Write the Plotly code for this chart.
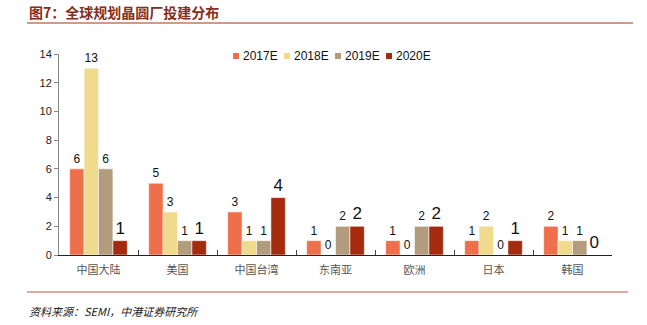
import plotly.graph_objects as go

# Planned fab construction by region, 2017E-2020E
regions = ["中国大陆", "美国", "中国台湾", "东南亚", "欧洲", "日本", "韩国"]
series_names = ["2017E", "2018E", "2019E", "2020E"]
fabs_2017 = [6, 5, 3, 1, 1, 1, 2]
fabs_2018 = [13, 3, 1, 0, 0, 2, 1]
fabs_2019 = [6, 1, 1, 2, 2, 0, 1]
fabs_2020 = [1, 1, 4, 2, 2, 1, 0]
y_ticks = [0, 2, 4, 6, 8, 10, 12, 14]

colors = ["#EE6F4B", "#F0DA8E", "#B39C7D", "#A52B0F"]
label_sizes = [12, 12, 12, 17]

CJK = "Noto Sans CJK SC"
LATIN = "Liberation Sans, Arial"

fig = go.Figure()
for name, vals, col, fs in zip(series_names,
                               [fabs_2017, fabs_2018, fabs_2019, fabs_2020],
                               colors, label_sizes):
    fig.add_trace(go.Bar(
        name=name, x=regions, y=vals,
        marker=dict(color=col, line=dict(color="rgba(255,255,255,0.55)", width=1)),
        text=[str(v) for v in vals], textposition="outside",
        textfont=dict(size=fs, color="#111", family=LATIN),
        cliponaxis=False, showlegend=False,
    ))

W, H = 647, 325
L, R, T, B = 59, 35, 54, 70
pw, ph = W - L - R, H - T - B


def px(x):
    return (x - L) / pw


def py(y):
    return (H - B - y) / ph


shapes = [
    dict(type="line", xref="paper", yref="paper", x0=px(27), x1=px(633),
         y0=py(23), y1=py(23), line=dict(color="#D19A86", width=2)),
    dict(type="line", xref="paper", yref="paper", x0=px(27), x1=px(628),
         y0=py(292), y1=py(292), line=dict(color="#B65A43", width=1.2)),
]
annotations = [
    dict(text="<b>图7：全球规划晶圆厂投建分布</b>", xref="paper", yref="paper",
         x=px(27), y=py(12), xanchor="left", yanchor="middle", showarrow=False,
         font=dict(family=CJK, size=14, color="#862E1C")),
    dict(text="<i>资料来源：SEMI，中港证券研究所</i>", xref="paper", yref="paper",
         x=px(27), y=py(311), xanchor="left", yanchor="middle", showarrow=False,
         font=dict(family=CJK, size=11, color="#222")),
]

# Compact horizontal legend: small swatch followed by series name
legend_x0, legend_step, legend_y = 233, 51, 56
for i, (name, col) in enumerate(zip(series_names, colors)):
    x = legend_x0 + i * legend_step
    shapes.append(dict(type="rect", xref="paper", yref="paper",
                       x0=px(x), x1=px(x + 6), y0=py(legend_y + 3), y1=py(legend_y - 3),
                       fillcolor=col, line=dict(width=0)))
    annotations.append(dict(text=name, xref="paper", yref="paper",
                            x=px(x + 8), y=py(legend_y), xanchor="left", yanchor="middle",
                            showarrow=False,
                            font=dict(family=LATIN, size=12, color="#111")))

fig.update_layout(
    width=W, height=H,
    margin=dict(l=L, r=R, t=T, b=B),
    paper_bgcolor="white", plot_bgcolor="white",
    barmode="group", bargap=0.27, bargroupgap=0,
    font=dict(family=LATIN, size=11, color="#222"),
    showlegend=False,
    xaxis=dict(type="category", showline=True, linecolor="#222", linewidth=1,
               ticks="inside", ticklen=5, tickcolor="#444", tickson="boundaries",
               tickfont=dict(family=CJK, size=11, color="#555"), ticklabelstandoff=5,
               showgrid=False, zeroline=False),
    yaxis=dict(range=[0, 14], tickvals=y_ticks, showline=True, linecolor="#888",
               linewidth=1, ticks="outside", ticklen=4, tickcolor="#888",
               tickfont=dict(size=11, color="#222"), showgrid=False, zeroline=False),
    shapes=shapes,
    annotations=annotations,
)

fig.write_html("out.html")
